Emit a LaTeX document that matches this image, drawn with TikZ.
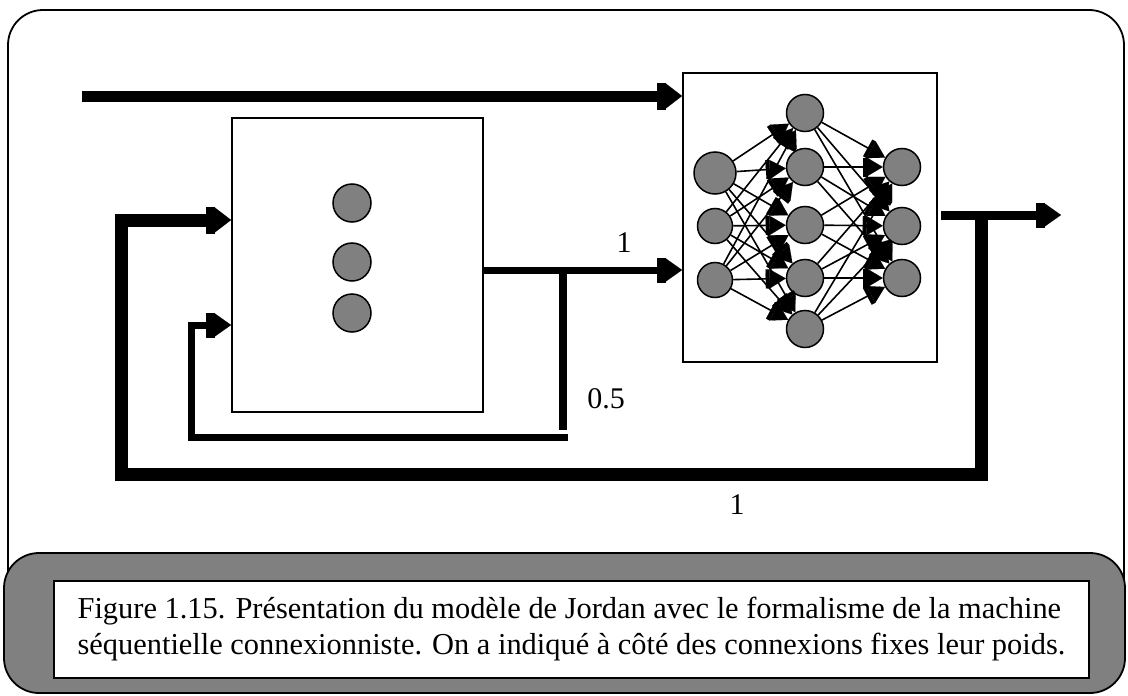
\documentclass[tikz,border=0pt]{standalone}
\usepackage{fontspec}
\setmainfont{Liberation Serif}
\usetikzlibrary{arrows.meta}

\begin{document}
\begin{tikzpicture}[x=1pt,y=-1pt,
    unit/.style={circle,draw,line width=1.5pt,fill=gray,inner sep=0pt,minimum size=37pt},
    box/.style={draw,line width=1.8pt,fill=white,inner sep=0pt},
    lbl/.style={font=\fontsize{30}{34}\selectfont,inner sep=0pt},
    heavy/.style={line width=13pt,-{Rectangle[length=8pt,width=26pt,line width=0.1pt]Triangle[length=17pt,width=26pt,line width=0.1pt]}},
    wire/.style={line width=7pt,-{Rectangle[length=8pt,width=24pt,line width=0.1pt]Triangle[length=17pt,width=24pt,line width=0.1pt]}},
    link/.style={line width=1.6pt,-{Rectangle[length=4pt,width=19pt,line width=0.1pt]Triangle[length=16pt,width=19pt,line width=0.1pt]}}]
    \useasboundingbox (0,0) rectangle (1128,696);
    % frame and caption
    \draw[line width=1.8pt,rounded corners=35pt] (8,10) rectangle (1124,640);
    \draw[line width=1.8pt,fill=gray,rounded corners=35pt] (4,553) rectangle (1125,693);
    \node[box,minimum width=1035pt,minimum height=97pt,align=left,
        font=\fontsize{30.4}{36}\selectfont] (cap) at (571.5,629.5)
        {Figure 1.15. Présentation du modèle de Jordan avec le formalisme de la machine\\
         séquentielle connexionniste. On a indiqué à côté des connexions fixes leur poids.};
    % context block
    \node[box,minimum width=251pt,minimum height=294pt] (ctx) at (357.5,265) {};
    \node[unit,minimum size=38pt] (c1) at (352,203) {};
    \node[unit,minimum size=38pt] (c2) at (352,262) {};
    \node[unit,minimum size=38pt] (c3) at (352,313) {};
    % network block
    \node[box,minimum width=254pt,minimum height=289pt] (net) at (810,217.5) {};
    \node[unit,minimum size=42pt] (i1) at (715,173) {};
    \node[unit,minimum size=35pt] (i2) at (715,226) {};
    \node[unit,minimum size=35pt] (i3) at (715,280) {};
    \node[unit] (h1) at (805,113) {};
    \node[unit] (h2) at (805,167) {};
    \node[unit] (h3) at (805,225) {};
    \node[unit] (h4) at (805,278) {};
    \node[unit] (h5) at (805,329) {};
    \node[unit] (o1) at (902,167) {};
    \node[unit] (o2) at (902,226) {};
    \node[unit] (o3) at (902,278) {};
    \foreach \i in {1,2,3}
        \foreach \h in {1,...,5}
            \draw[link] (i\i) -- (h\h);
    \foreach \h in {1,...,5}
        \foreach \o in {1,2,3}
            \draw[link] (h\h) -- (o\o);
    % weights
    \node[lbl] (w1) at (624,243) {1};
    \node[lbl] (w2) at (606,399) {0.5};
    \node[lbl] (w3) at (737,505) {1};
    % connections
    \coordinate (in) at (82,96);
    \coordinate (cout) at (483,270);
    \coordinate (sp) at (563,270);
    \coordinate (spend) at (563,430);
    \coordinate (fbr) at (568,437);
    \coordinate (back) at (191,325);
    \coordinate (nout) at (941,215);
    \coordinate (jn) at (981,215);
    \coordinate (yout) at (1061,215);
    \coordinate (low) at (121,474);
    \coordinate (top) at (121,220);
    \draw[heavy,line width=11pt] (in) -- (in -| net.west);
    \draw[wire] (cout) -- (cout -| net.west);
    \draw[line width=8pt] (sp) -- (spend);
    \draw[wire] (fbr) -| (back) -- (back -| ctx.west);
    \draw[wire,line width=9pt] (nout) -- (yout);
    \draw[heavy] (jn) |- (low) |- (top -| ctx.west);
\end{tikzpicture}
\end{document}
